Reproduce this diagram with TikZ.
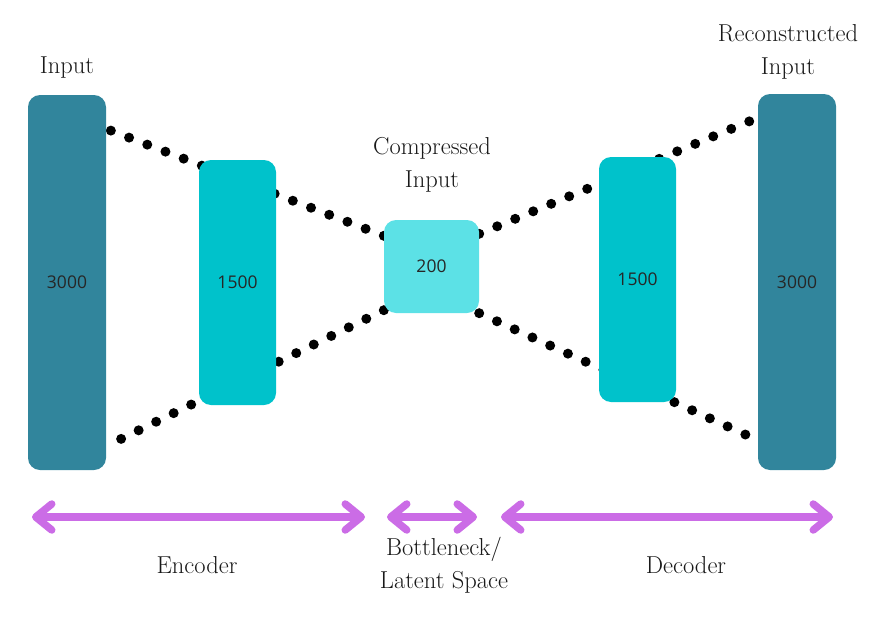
\documentclass[tikz,border=0pt]{standalone}
\usepackage{fontspec}
\newfontfamily\numfont{Open Sans}
\usetikzlibrary{positioning,arrows.meta,backgrounds}
\definecolor{darkteal}{HTML}{31859C}
\definecolor{midcyan}{HTML}{00C2CB}
\definecolor{lightcyan}{HTML}{5CE1E6}
\definecolor{arrowpurple}{HTML}{CB6CE6}
\tikzset{
	layerbox/.style={rounded corners=12pt,minimum width=77pt,inner sep=0pt,
		font=\numfont\fontsize{17.5}{20}\selectfont,text=black!85},
	dotline/.style={line width=10pt,line cap=round,dash pattern=on 0pt off 19.5pt},
	spanarrow/.style={arrowpurple,line width=7.5pt,
		{Straight Barb[length=16pt,width=26pt,round]}-{Straight Barb[length=16pt,width=26pt,round]}},
	caption/.style={font=\fontsize{24.5}{33}\selectfont,align=center,text=black!90}
}
\begin{document}
\begin{tikzpicture}[x=1pt,y=-1pt]
			\useasboundingbox (0,0) rectangle (880,626);
			%The layers
			\node [layerbox,fill=darkteal,minimum width=78pt,minimum height=375pt] (in3000) at (67,282.5) {3000};
			\node [layerbox,fill=midcyan,minimum height=245pt] (enc1500) at (237.5,282.5) {1500};
			\node [layerbox,fill=lightcyan,minimum width=95pt,minimum height=93pt] (latent) at (431.5,266.5) {200};
			\node [layerbox,fill=midcyan,minimum height=245pt] (dec1500) at (637.5,279.5) {1500};
			\node [layerbox,fill=darkteal,minimum width=78pt,minimum height=376pt] (out3000) at (797,282) {3000};
			%Dotted lines behind the layers
			\begin{scope}[on background layer]
			\draw [dotline] ([yshift=-16pt]latent.north west) -- ([yshift=-34pt]in3000.north east);
			\draw [dotline] ([yshift=3pt]latent.south west) -- ([yshift=24pt]in3000.south east);
			\draw [dotline] ([yshift=-14pt]latent.north east) -- ([yshift=-24pt]out3000.north west);
			\draw [dotline] (latent.south east) -- ([yshift=30pt]out3000.south west);
			\end{scope}
			%The captions
			\node [caption] (inLabel) at (67,68) {Input};
			\node [caption] (compLabel) at (432,165) {Compressed\\Input};
			\node [caption] (recLabel) at (788,52) {Reconstructed\\Input};
			%Arrows at the bottom
			\coordinate (encL) at (32,517);
			\coordinate (encR) at (365,517);
			\coordinate (botL) at (387,517);
			\coordinate (botR) at (477,517);
			\coordinate (decL) at (501,517);
			\coordinate (decR) at (833,517);
			\draw [spanarrow] (encL) -- (encR);
			\draw [spanarrow] (botL) -- (botR);
			\draw [spanarrow] (decL) -- (decR);
			\node [caption] (encLabel) at (197,565) {Encoder};
			\node [caption] (botLabel) at (444,565) {Bottleneck/\\Latent Space};
			\node [caption] (decLabel) at (686,565) {Decoder};
\end{tikzpicture}
\end{document}
